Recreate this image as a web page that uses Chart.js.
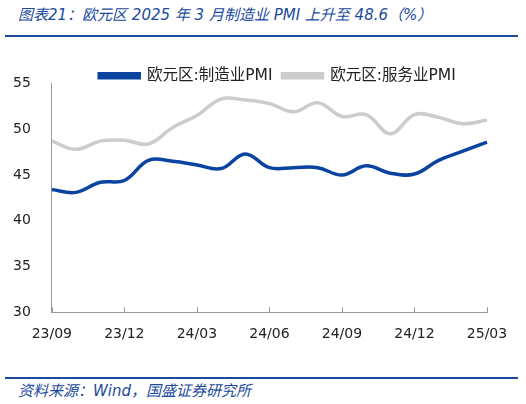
<!DOCTYPE html>
<html>
<head>
<meta charset="utf-8">
<script src="https://cdn.jsdelivr.net/npm/chart.js@4"></script>
<style>
  body { margin: 0; width: 526px; height: 404px; background: #fff; position: relative; overflow: hidden;
         font-family: "DejaVu Sans", "Noto Sans CJK SC", sans-serif; }
  #title { position: absolute; left: 18px; top: 3px; font-size: 15px; font-style: italic; color: #1a4a9c; white-space: nowrap; }
  #topline { position: absolute; left: 5px; top: 35px; width: 513px; height: 2px; background: #1a4a9c; }
  #wrap { position: absolute; left: 0; top: 58px; width: 526px; height: 291px; }
  #botline { position: absolute; left: 5px; top: 377px; width: 513px; height: 2px; background: #1a4a9c; }
  #source { position: absolute; left: 18px; top: 379px; font-size: 15px; font-style: italic; color: #1a4a9c; white-space: nowrap; }
</style>
</head>
<body>
<div id="title">图表21：欧元区 2025 年 3 月制造业 PMI 上升至 48.6（%）</div>
<div id="topline"></div>
<div id="wrap"><canvas id="myChart"></canvas></div>
<div id="botline"></div>
<div id="source">资料来源：Wind，国盛证券研究所</div>
<script>
var months = ['23/09', '23/10', '23/11', '23/12', '24/01', '24/02', '24/03', '24/04', '24/05', '24/06',
              '24/07', '24/08', '24/09', '24/10', '24/11', '24/12', '25/01', '25/02', '25/03'];
var manufacturing = [43.4, 43.1, 44.2, 44.4, 46.6, 46.5, 46.1, 45.7, 47.3, 45.8,
                     45.8, 45.8, 45.0, 46.0, 45.2, 45.1, 46.6, 47.6, 48.6];
var services = [48.7, 47.8, 48.7, 48.8, 48.4, 50.2, 51.5, 53.3, 53.2, 52.8,
                51.9, 52.9, 51.4, 51.6, 49.5, 51.6, 51.3, 50.6, 51.0];
var shownLabels = ['23/09', '23/12', '24/03', '24/06', '24/09', '24/12', '25/03'];

// small tick marks pointing up from the x axis
var upTicks = {
    id: 'upTicks',
    afterDraw: function (chart) {
        var x = chart.scales.x;
        var c = chart.ctx;
        c.save();
        c.strokeStyle = '#999';
        c.lineWidth = 1;
        for (var i = 0; i < months.length; i++) {
            if (shownLabels.indexOf(months[i]) < 0) continue;
            var px = Math.round(x.getPixelForValue(i)) + 0.5;
            c.beginPath();
            c.moveTo(px, x.top);
            c.lineTo(px, x.top - 5);
            c.stroke();
        }
        c.restore();
    }
};

// legend sits close to the plot and a bit right of centre
var legendTweak = {
    id: 'legendTweak',
    afterInit: function (chart) {
        var lg = chart.legend;
        var fit = lg.fit;
        lg.fit = function () {
            fit.call(this);
            this.height -= 10;
        };
    },
    afterLayout: function (chart) {
        chart.legend.left += 34;
        chart.legend.right += 34;
    }
};

var ctx = document.getElementById('myChart');
new Chart(ctx, {
    type: 'line',
    data: {
        labels: months,
        datasets: [{
            label: '欧元区:制造业PMI',
            data: manufacturing,
            borderColor: '#0a44a0',
            backgroundColor: '#0a44a0',
            borderWidth: 3.5,
            pointRadius: 0,
            tension: 0.4
        }, {
            label: '欧元区:服务业PMI',
            data: services,
            borderColor: '#cccccc',
            backgroundColor: '#cccccc',
            borderWidth: 3.5,
            pointRadius: 0,
            tension: 0.4
        }]
    },
    options: {
        responsive: true,
        maintainAspectRatio: false,
        animation: false,
        layout: { padding: { left: 0, right: 39, top: 0, bottom: 0 } },
        plugins: {
            legend: {
                position: 'top',
                labels: {
                    boxWidth: 40,
                    boxHeight: 4,
                    padding: 10,
                    color: '#222',
                    font: { size: 15.5, family: '"DejaVu Sans", "Noto Sans CJK SC", sans-serif' }
                }
            },
            tooltip: { enabled: false }
        },
        scales: {
            x: {
                grid: { display: false },
                border: { color: '#999' },
                ticks: {
                    autoSkip: false,
                    maxRotation: 0,
                    padding: 6,
                    color: '#222',
                    font: { size: 14, family: '"DejaVu Sans", sans-serif' },
                    callback: function (val, i) {
                        return shownLabels.indexOf(months[i]) >= 0 ? months[i] : '';
                    }
                }
            },
            y: {
                min: 30,
                max: 55,
                grid: { display: false },
                border: { color: '#999' },
                ticks: {
                    stepSize: 5,
                    padding: 13,
                    color: '#222',
                    font: { size: 14, family: '"DejaVu Sans", sans-serif' }
                }
            }
        }
    },
    plugins: [upTicks, legendTweak]
});
</script>
</body>
</html>
